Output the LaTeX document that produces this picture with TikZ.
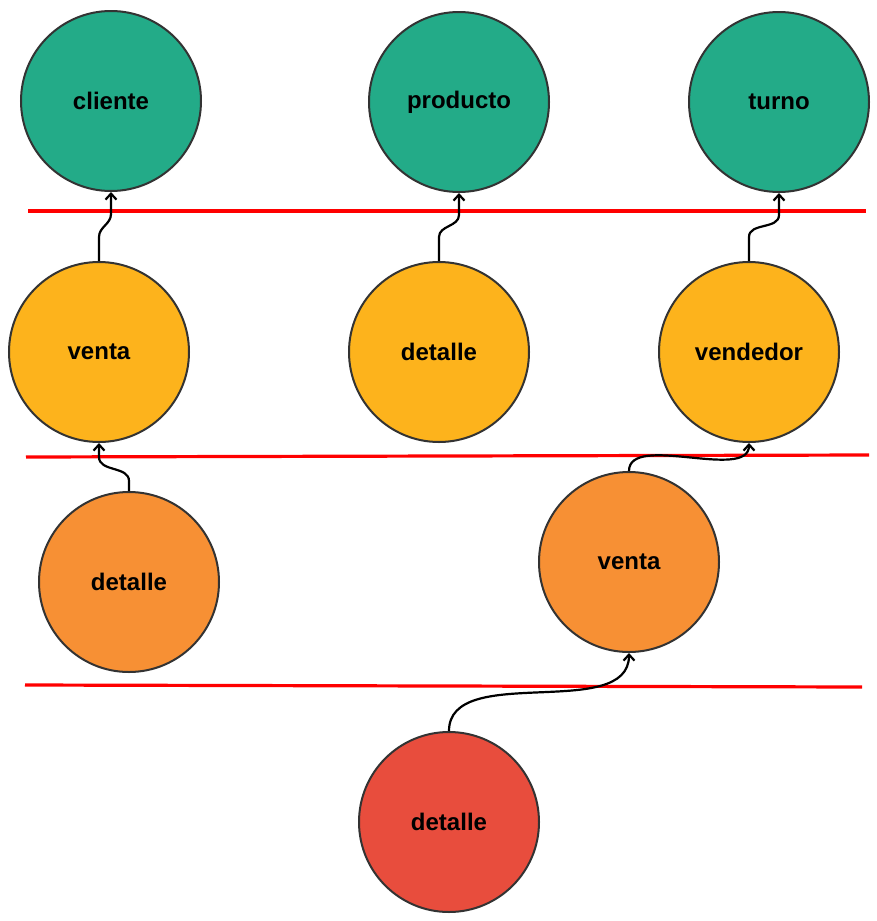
\documentclass[tikz,border=0pt]{standalone}
\usepackage{fontspec}
\setmainfont{Liberation Sans}
\usetikzlibrary{calc,arrows.meta}
\definecolor{cgreen}{HTML}{23AB88}
\definecolor{cyellow}{HTML}{FDB31C}
\definecolor{corange}{HTML}{F79034}
\definecolor{cred}{HTML}{E84D3D}
\definecolor{cborder}{HTML}{333333}
\begin{document}
\begin{tikzpicture}[x=1pt,y=-1pt,
  ent/.style={circle,draw=cborder,line width=2pt,minimum size=180pt,inner sep=0pt,
    font=\fontsize{24}{28}\selectfont\bfseries},
  sep/.style={draw=red,line width=3.2pt},
  conn/.style={draw=black,line width=2.2pt,-{Straight Barb[length=6pt,width=11pt,line width=2.2pt]}}]
\useasboundingbox (0,0) rectangle (877,921);
\node[ent,fill=cgreen] (cliente) at (111,101) {cliente};
\node[ent,fill=cgreen] (producto) at (459,102) {producto};
\node[ent,fill=cgreen] (turno) at (779,102) {turno};
\node[ent,fill=cyellow] (venta1) at (99,352) {venta};
\node[ent,fill=cyellow] (detalle1) at (439,352) {detalle};
\node[ent,fill=cyellow] (vendedor) at (749,352) {vendedor};
\node[ent,fill=corange] (detalle2) at (129,582) {detalle};
\node[ent,fill=corange] (venta2) at (629,562) {venta};
\node[ent,fill=cred] (detalle3) at (449,822) {detalle};
\coordinate (l1a) at (28,211); \coordinate (l1b) at (866,211);
\coordinate (l2a) at (26,457); \coordinate (l2b) at (869,455);
\coordinate (l3a) at (25,685); \coordinate (l3b) at (862,687);
\draw[sep] (l1a) -- (l1b);
\draw[sep] (l2a) -- (l2b);
\draw[sep] (l3a) -- (l3b);
\draw[conn] (venta1.north) -- ++(0,-24) to[out=90,in=-90] ($(cliente.south)+(0,22)$) -- (cliente.south);
\draw[conn] (detalle1.north) -- ++(0,-24) to[out=90,in=-90] ($(producto.south)+(0,22)$) -- (producto.south);
\draw[conn] (vendedor.north) -- ++(0,-24) to[out=90,in=-90] ($(turno.south)+(0,22)$) -- (turno.south);
\draw[conn] (detalle2.north) -- ++(0,-10) to[out=90,in=-90] ($(venta1.south)+(0,14)$) -- (venta1.south);
\draw[conn] (venta2.north) to[out=90,in=-90,looseness=0.8] (vendedor.south);
\draw[conn] (detalle3.north) to[out=90,in=-90,looseness=0.9] (venta2.south);
\end{tikzpicture}
\end{document}
